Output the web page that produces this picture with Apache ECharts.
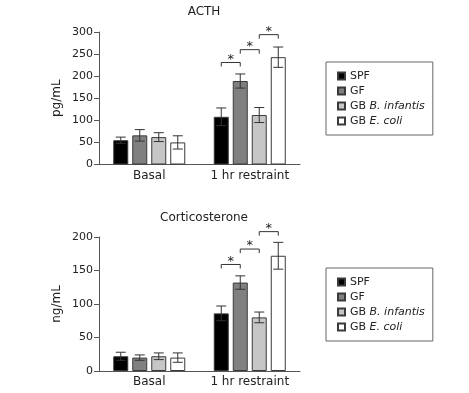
<!DOCTYPE html>
<html><head><meta charset="utf-8">
<script src="https://cdn.jsdelivr.net/npm/echarts@6/dist/echarts.min.js"></script>
<style>html,body{margin:0;padding:0;background:#fff}#c{width:469px;height:393px}</style>
</head><body><div id="c"></div>
<script>
// ---- data ----
const categories = ['Basal', '1 hr restraint'];
const groups = ['SPF', 'GF', 'GB B. infantis', 'GB E. coli'];
const groupColors = ['#000000', '#808080', '#c6c6c6', '#ffffff'];

// ACTH (pg/mL): means per group [Basal, 1 hr restraint]
const acthSPF = [55, 108];
const acthGF = [66, 189];
const acthBinf = [62, 112];
const acthEcoli = [50, 243];
// ACTH error (±)
const acthSPFErr = [7, 20];
const acthGFErr = [13, 16];
const acthBinfErr = [10, 17];
const acthEcoliErr = [15, 23];
// significance brackets: [category, fromGroup, toGroup, height]
const acthSig = [[1, 0, 1, 231], [1, 1, 2, 260], [1, 2, 3, 294]];
const acthTicks = [0, 50, 100, 150, 200, 250, 300];

// Corticosterone (ng/mL)
const cortSPF = [22, 86];
const cortGF = [20, 132];
const cortBinf = [22, 80];
const cortEcoli = [20, 172];
const cortSPFErr = [6, 11];
const cortGFErr = [4, 10];
const cortBinfErr = [5, 8];
const cortEcoliErr = [7, 20];
const cortSig = [[1, 0, 1, 159], [1, 1, 2, 182], [1, 2, 3, 208]];
const cortTicks = [0, 50, 100, 150, 200];

// ---- style constants ----
const FONT = 'DejaVu Sans';
const TXT = '#222';
const AX = '#555';
const BAR_W = 15, BAR_GAP = 4;
const CAP = 5;

const acthMeans = [acthSPF, acthGF, acthBinf, acthEcoli];
const acthErrs = [acthSPFErr, acthGFErr, acthBinfErr, acthEcoliErr];
const cortMeans = [cortSPF, cortGF, cortBinf, cortEcoli];
const cortErrs = [cortSPFErr, cortGFErr, cortBinfErr, cortEcoliErr];

function offsetOf(k) { return (k - 1.5) * (BAR_W + BAR_GAP); }

function barSeries(means, gi) {
  return means.map((vals, k) => ({
    type: 'bar', name: groups[k], xAxisIndex: gi, yAxisIndex: gi,
    data: vals, barWidth: BAR_W, barGap: (BAR_GAP / BAR_W * 100) + '%',
    itemStyle: { color: groupColors[k], borderColor: '#3a3a3a', borderWidth: 1 },
    emphasis: { disabled: true }, animation: false
  }));
}

function errSeries(means, errs, gi) {
  const data = [];
  means.forEach((vals, k) => vals.forEach((m, c) => data.push([c, k, m, errs[k][c]])));
  return {
    type: 'custom', xAxisIndex: gi, yAxisIndex: gi, data: data, encode: { x: 0, y: 2 },
    silent: true, animation: false, z: 5,
    renderItem: function (params, api) {
      const c = api.value(0), k = api.value(1), m = api.value(2), e = api.value(3);
      const hi = api.coord([c, m + e]), lo = api.coord([c, m - e]);
      const x = hi[0] + offsetOf(k);
      const st = { stroke: '#333', lineWidth: 1, fill: null };
      return { type: 'group', children: [
        { type: 'line', shape: { x1: x, y1: hi[1], x2: x, y2: lo[1] }, style: st },
        { type: 'line', shape: { x1: x - CAP, y1: hi[1], x2: x + CAP, y2: hi[1] }, style: st },
        { type: 'line', shape: { x1: x - CAP, y1: lo[1], x2: x + CAP, y2: lo[1] }, style: st }
      ]};
    }
  };
}

function sigSeries(sig, gi) {
  return {
    type: 'custom', xAxisIndex: gi, yAxisIndex: gi, data: sig, encode: { x: 0, y: 3 },
    silent: true, animation: false, clip: false, z: 6,
    renderItem: function (params, api) {
      const c = api.value(0), a = api.value(1), b = api.value(2), h = api.value(3);
      const p = api.coord([c, h]);
      const x1 = p[0] + offsetOf(a), x2 = p[0] + offsetOf(b), y = p[1];
      return { type: 'group', children: [
        { type: 'polyline', shape: { points: [[x1, y + 4], [x1, y], [x2, y], [x2, y + 4]] },
          style: { stroke: '#333', lineWidth: 1, fill: null } },
        { type: 'text', x: (x1 + x2) / 2, y: y - 3,
          style: { text: '*', fontSize: 13, fontFamily: FONT, fill: '#222', align: 'center', verticalAlign: 'middle' } }
      ]};
    }
  };
}

function legendCfg(top) {
  return {
    orient: 'vertical', left: 326, top: top, data: groups,
    icon: 'rect', itemWidth: 7, itemHeight: 7, itemGap: 3,
    padding: [8, 8, 8, 11], borderColor: '#666', borderWidth: 1,
    selectedMode: false,
    formatter: function (n) {
      return n.indexOf('GB ') === 0 ? '{n|GB }{i|' + n.slice(3) + '}' : '{n|' + n + '}';
    },
    textStyle: {
      fontFamily: FONT, fontSize: 11, color: TXT, lineHeight: 12,
      rich: {
        n: { fontFamily: FONT, fontSize: 11, color: TXT, lineHeight: 12 },
        i: { fontFamily: FONT, fontSize: 11, color: TXT, lineHeight: 12, fontStyle: 'italic' }
      }
    }
  };
}

function yAxisCfg(gi, name, ticks) {
  return {
    type: 'value', gridIndex: gi, min: ticks[0], max: ticks[ticks.length - 1],
    interval: ticks[1] - ticks[0],
    name: name, nameLocation: 'middle', nameRotate: 90, nameGap: 36,
    nameTextStyle: { fontFamily: FONT, fontSize: 12, color: TXT },
    axisLine: { show: true, lineStyle: { color: AX, width: 1 } },
    axisTick: { show: true, length: 5, lineStyle: { color: AX } },
    splitLine: { show: false },
    axisLabel: { fontFamily: FONT, fontSize: 11, color: TXT, margin: 6 }
  };
}

function xAxisCfg(gi) {
  return {
    type: 'category', gridIndex: gi, data: categories,
    axisLine: { show: true, lineStyle: { color: AX, width: 1 } },
    axisTick: { show: false },
    axisLabel: { fontFamily: FONT, fontSize: 12, color: TXT, margin: 5, interval: 0, hideOverlap: false }
  };
}

const chart = echarts.init(document.getElementById('c'), null, { renderer: 'canvas' });
chart.setOption({
  backgroundColor: '#fff',
  animation: false,
  title: [
    { text: 'ACTH', left: 199, top: 1, textAlign: 'center',
      textStyle: { fontFamily: FONT, fontSize: 12, fontWeight: 'normal', color: TXT } },
    { text: 'Corticosterone', left: 199, top: 207, textAlign: 'center',
      textStyle: { fontFamily: FONT, fontSize: 12, fontWeight: 'normal', color: TXT } }
  ],
  legend: [legendCfg(62), legendCfg(268)],
  grid: [
    { left: 99, width: 201, top: 32, height: 132.5 },
    { left: 99, width: 201, top: 237, height: 134 }
  ],
  xAxis: [xAxisCfg(0), xAxisCfg(1)],
  yAxis: [yAxisCfg(0, 'pg/mL', acthTicks), yAxisCfg(1, 'ng/mL', cortTicks)],
  series: [].concat(
    barSeries(acthMeans, 0),
    [errSeries(acthMeans, acthErrs, 0), sigSeries(acthSig, 0)],
    barSeries(cortMeans, 1),
    [errSeries(cortMeans, cortErrs, 1), sigSeries(cortSig, 1)]
  )
});
</script></body></html>
